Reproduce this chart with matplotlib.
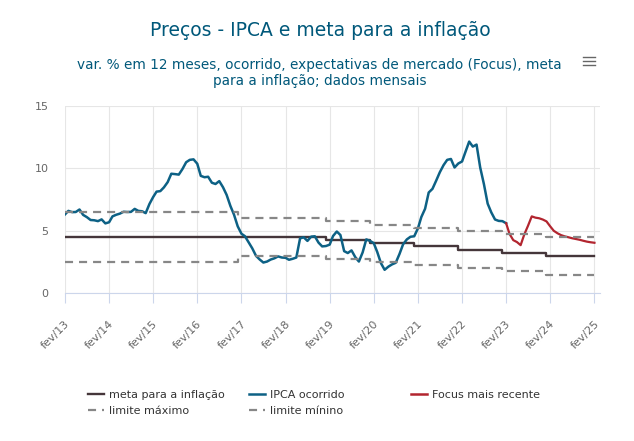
import matplotlib
matplotlib.use("Agg")
import matplotlib.pyplot as plt
from matplotlib.lines import Line2D
from matplotlib.transforms import ScaledTranslation
import pandas as pd

plt.rcParams['font.family'] = ['DejaVu Sans']
plt.rcParams['lines.scale_dashes'] = False

# IPCA acumulado em 12 meses, fev/13 a fev/23
ipca = [6.31, 6.59, 6.49, 6.50, 6.70, 6.27, 6.09, 5.86, 5.84, 5.77, 5.91,
        5.59, 5.68, 6.15, 6.28, 6.37, 6.52, 6.50, 6.51, 6.75, 6.59, 6.56, 6.41,
        7.14, 7.70, 8.13, 8.17, 8.47, 8.89, 9.56, 9.53, 9.49, 9.93, 10.48, 10.67,
        10.71, 10.36, 9.39, 9.28, 9.32, 8.84, 8.74, 8.97, 8.48, 7.87, 6.99, 6.29,
        5.35, 4.76, 4.57, 4.08, 3.60, 3.00, 2.71, 2.46, 2.54, 2.70, 2.80, 2.95,
        2.86, 2.84, 2.68, 2.76, 2.86, 4.39, 4.48, 4.19, 4.53, 4.56, 4.05, 3.75,
        3.78, 3.89, 4.58, 4.94, 4.66, 3.37, 3.22, 3.43, 2.89, 2.54, 3.27, 4.31,
        4.19, 4.01, 3.30, 2.40, 1.88, 2.13, 2.31, 2.44, 3.14, 3.92, 4.31, 4.52,
        4.56, 5.20, 6.10, 6.76, 8.06, 8.35, 8.99, 9.68, 10.25, 10.67, 10.74, 10.06,
        10.38, 10.54, 11.30, 12.13, 11.73, 11.89, 10.07, 8.73, 7.17, 6.47, 5.90, 5.79,
        5.77, 5.60]

# Focus mais recente, fev/23 a fev/25
focus = [5.60, 4.75, 4.25, 4.10, 3.85, 4.70, 5.40, 6.15, 6.05, 6.00, 5.90,
         5.75, 5.35, 5.00, 4.80, 4.65, 4.55, 4.48, 4.40, 4.34, 4.28, 4.20, 4.13,
         4.08, 4.04]

anos = [2013, 2014, 2015, 2016, 2017, 2018, 2019, 2020, 2021, 2022, 2023, 2024, 2025]
meta_ano = [4.5, 4.5, 4.5, 4.5, 4.5, 4.5, 4.25, 4.0, 3.75, 3.5, 3.25, 3.0, 3.0]
lim_max_ano = [6.5, 6.5, 6.5, 6.5, 6.0, 6.0, 5.75, 5.5, 5.25, 5.0, 4.75, 4.5, 4.5]
lim_min_ano = [2.5, 2.5, 2.5, 2.5, 3.0, 3.0, 2.75, 2.5, 2.25, 2.0, 1.75, 1.5, 1.5]

rotulos = ['fev/13', 'fev/14', 'fev/15', 'fev/16', 'fev/17', 'fev/18', 'fev/19',
           'fev/20', 'fev/21', 'fev/22', 'fev/23', 'fev/24', 'fev/25']

meses = pd.date_range('2013-02-01', '2025-02-01', freq='MS')
meta = [dict(zip(anos, meta_ano))[d.year] for d in meses]
lim_max = [dict(zip(anos, lim_max_ano))[d.year] for d in meses]
lim_min = [dict(zip(anos, lim_min_ano))[d.year] for d in meses]

c_meta = '#45363a'
c_ipca = '#0d6185'
c_focus = '#b2252f'
c_lim = '#878787'
c_tit = '#00587a'

fig = plt.figure(figsize=(6.34, 4.41), dpi=100)
ax = fig.add_axes([65 / 634, 1 - 293.3 / 441, 535 / 634, 187.6 / 441])

ax.plot(meses, meta, color=c_meta, lw=1.7, drawstyle='steps-post', zorder=3)
ax.plot(meses[:len(ipca)], ipca, color=c_ipca, lw=1.8, zorder=4)
ax.plot(meses[len(ipca) - 1:], focus, color=c_focus, lw=1.6, zorder=4)
ax.plot(meses, lim_max, color=c_lim, lw=1.6, dashes=(5.8, 4.3),
        drawstyle='steps-post', zorder=5)
ax.plot(meses, lim_min, color=c_lim, lw=1.6, dashes=(5.8, 4.3),
        drawstyle='steps-post', zorder=5)

ax.set_ylim(0, 15)
ax.set_yticks([0, 5, 10, 15])
ax.set_xlim(pd.Timestamp('2013-02-01'), pd.Timestamp('2025-03-19'))
ax.set_xticks(pd.date_range('2013-02-01', '2025-02-01', freq='12MS'))
ax.set_xticklabels(rotulos)

for s in ['top', 'right', 'left']:
    ax.spines[s].set_visible(False)
ax.spines['bottom'].set_color('#ccd6eb')
ax.spines['bottom'].set_linewidth(0.8)
ax.grid(True, color='#e6e6e6', lw=0.8, zorder=0)
ax.set_axisbelow(True)

ax.tick_params(axis='y', length=0, pad=12, labelsize=8, labelcolor='#666666')
ax.tick_params(axis='x', length=7, width=0.8, color='#ccd6eb', pad=13.5,
               labelsize=8, labelcolor='#666666')
for lbl in ax.get_xticklabels():
    lbl.set_rotation(45)
    lbl.set_ha('right')
    lbl.set_va('center')
    lbl.set_rotation_mode('anchor')
    lbl.set_transform(lbl.get_transform() + ScaledTranslation(3 / 100, 0, fig.dpi_scale_trans))

fig.text(0.505, 1 - 30 / 441, 'Preços - IPCA e meta para a inflação', ha='center',
         va='center', fontsize=13.5, color=c_tit)
fig.text(0.504, 1 - 73 / 441,
         'var. % em 12 meses, ocorrido, expectativas de mercado (Focus), meta\n'
         'para a inflação; dados mensais',
         ha='center', va='center', fontsize=9.8, color=c_tit, linespacing=1.1)

# menu
for yy in [57, 61, 65]:
    fig.add_artist(Line2D([583 / 634, 595 / 634], [1 - yy / 441, 1 - yy / 441],
                          color='#666666', lw=1))

h_meta = Line2D([], [], color=c_meta, lw=1.7)
h_ipca = Line2D([], [], color=c_ipca, lw=1.8)
h_focus = Line2D([], [], color=c_focus, lw=1.8)
h_max = Line2D([], [], color=c_lim, lw=1.6, dashes=(5.8, 4.3))
h_min = Line2D([], [], color=c_lim, lw=1.6, dashes=(5.8, 4.3))

colunas = [
    (88, [h_meta, h_max], ['meta para a inflação', 'limite máximo']),
    (249, [h_ipca, h_min], ['IPCA ocorrido', 'limite mínino']),
    (411, [h_focus], ['Focus mais recente']),
]
for x0, hs, ls in colunas:
    leg = fig.legend(hs, ls, loc='upper left', bbox_to_anchor=(x0 / 634, 1 - 390 / 441),
                     frameon=False, fontsize=8, borderpad=0, borderaxespad=0,
                     handlelength=1.4, handletextpad=0.5, labelspacing=0.5)
    for t in leg.get_texts():
        t.set_color('#333333')

fig.savefig('out.png', dpi=100)
